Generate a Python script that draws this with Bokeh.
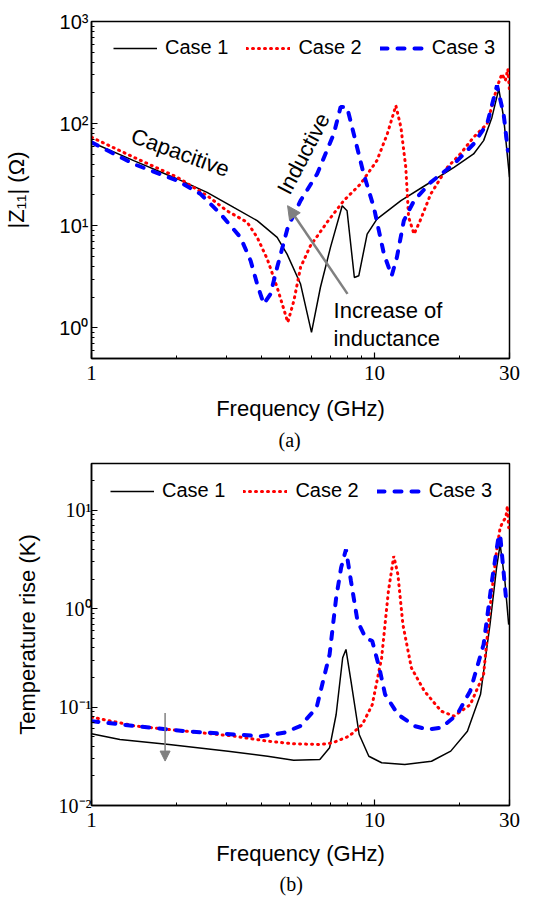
from bokeh.plotting import figure
from bokeh.models import FixedTicker, Legend, LegendItem, Label, Arrow, NormalHead, Title, Range1d
from bokeh.layouts import column
from bokeh.embed import file_html
from bokeh.resources import INLINE

# ---------------- data: panel (a) |Z11| (Ohm) ----------------
za_f1 = [1.0, 1.41, 2.01, 2.56, 3.18, 3.85, 4.53, 4.91, 5.48, 5.99, 6.44, 6.99, 7.69, 8.0, 8.49, 8.80, 9.42, 10.2, 12.4, 15.4, 19.1, 22.4, 24.3, 26.0, 27.5, 28.6, 30.0]
za_v1 = [65.6, 43.4, 28.7, 21.2, 15.1, 11.2, 7.69, 5.27, 2.68, 0.90, 2.48, 6.13, 15.7, 14.0, 3.11, 3.23, 8.28, 11.6, 17.6, 25.6, 37.3, 50.4, 68.1, 115, 219, 115, 29.8]

za_f2 = [1.0, 1.41, 2.01, 2.56, 3.01, 3.55, 3.85, 4.18, 4.53, 4.94, 5.19, 5.48, 5.94, 6.80, 7.79, 8.92, 10.2, 11.1, 11.9, 12.4, 12.9, 13.2, 13.8, 14.5, 15.8, 18.1, 20.1, 22.4, 25.0, 27.1, 28.2, 29.0, 29.6, 30.0]
za_v2 = [73.5, 46.8, 29.8, 19.7, 14.0, 10.8, 7.69, 4.71, 2.48, 1.13, 1.84, 3.91, 6.37, 10.8, 17.6, 25.6, 43.4, 79.2, 150, 92.0, 37.3, 12.1, 8.28, 11.2, 20.4, 37.3, 50.4, 73.5, 99.3, 227, 307, 263, 343, 209]

za_f3 = [1.0, 1.41, 2.01, 2.43, 2.86, 3.36, 3.65, 3.85, 4.06, 4.29, 4.53, 4.94, 5.48, 6.27, 7.18, 7.59, 8.0, 8.45, 9.16, 9.95, 10.8, 11.5, 12.0, 12.7, 13.8, 15.8, 19.1, 22.4, 25.0, 27.1, 28.6, 29.6]
za_v3 = [65.6, 40.2, 27.6, 20.4, 13.0, 7.69, 4.54, 2.68, 1.71, 2.14, 3.91, 9.63, 17.6, 32.1, 79.2, 145, 145, 79.2, 32.1, 15.1, 5.27, 3.23, 4.90, 11.2, 17.6, 26.6, 40.2, 63.2, 99.3, 236, 124, 54.3]

# ---------------- data: panel (b) temperature rise (K) ----------------
tb_f1 = [1.0, 1.26, 1.88, 3.04, 4.19, 5.18, 6.41, 6.94, 7.32, 7.72, 7.93, 8.26, 8.83, 9.55, 10.6, 12.8, 15.9, 18.6, 21.3, 23.7, 25.6, 27.0, 27.8, 28.9, 29.8]
tb_v1 = [0.0536, 0.0469, 0.0417, 0.0357, 0.0317, 0.0289, 0.0294, 0.0386, 0.0842, 0.318, 0.386, 0.184, 0.0527, 0.0317, 0.0272, 0.0261, 0.0282, 0.0357, 0.0570, 0.135, 0.693, 2.61, 4.51, 1.91, 0.69]

tb_f2 = [1.0, 1.44, 2.15, 3.20, 4.19, 5.18, 6.41, 7.11, 8.14, 9.06, 9.82, 10.6, 11.2, 11.7, 12.1, 12.6, 13.5, 15.0, 17.2, 19.1, 21.8, 24.3, 25.6, 27.0, 27.8, 28.5, 29.1, 29.5, 29.8]
tb_v2 = [0.0791, 0.0641, 0.0570, 0.0507, 0.0451, 0.0424, 0.0417, 0.0433, 0.0507, 0.0667, 0.106, 0.318, 1.51, 3.43, 2.23, 0.693, 0.251, 0.146, 0.0911, 0.0810, 0.106, 0.215, 1.02, 3.86, 6.67, 7.79, 8.42, 11.1, 6.67]

tb_f3 = [1.0, 1.44, 2.15, 3.20, 3.97, 4.78, 5.46, 6.24, 6.94, 7.32, 7.62, 7.93, 8.26, 8.71, 9.30, 9.82, 10.4, 10.9, 12.1, 13.9, 15.4, 17.2, 19.6, 21.8, 24.3, 26.0, 27.4, 27.8, 28.5, 29.3]
tb_v3 = [0.0721, 0.0641, 0.0570, 0.0527, 0.0507, 0.0548, 0.0641, 0.0984, 0.343, 1.29, 2.61, 4.01, 1.91, 0.750, 0.507, 0.469, 0.251, 0.135, 0.0842, 0.0641, 0.0593, 0.0617, 0.0842, 0.146, 0.434, 1.91, 5.27, 5.70, 2.61, 1.11]

case_labels = ["Case 1", "Case 2", "Case 3"]
x_ticks = [1, 10, 30]
x_tick_labels = {1: "1", 10: "10", 30: "30"}
x_minor = [2, 3, 4, 5, 6, 7, 8, 9, 20]
za_ticks = [1, 10, 100, 1000]
za_tick_labels = {1: "10⁰", 10: "10¹", 100: "10²", 1000: "10³"}
tb_ticks = [0.01, 0.1, 1, 10]
tb_tick_labels = {0.01: "10⁻²", 0.1: "10⁻¹", 1: "10⁰", 10: "10¹"}

SANS = "Liberation Sans"
SERIF = "Liberation Serif"
styles = [dict(line_color="black", line_width=1.5),
          dict(line_color="#FF0000", line_width=3, line_dash="1 5", line_cap="round"),
          dict(line_color="#0000FF", line_width=4, line_dash="7 10", line_cap="round")]


def minor_for(lo, hi):
    out = []
    d = 0.001
    while d < hi * 10:
        for k in range(2, 10):
            v = round(k * d, 6)
            if lo <= v <= hi:
                out.append(v)
        d *= 10
    return out


def make_panel(width, height, bl, br, bt, bb, yr, yticks, ylabels, ylabel, yfont,
               y_std, y_lab_std, x_lab_std, series, legend_loc, caption, cap_offset, cap_std):
    p = figure(width=width, height=height, x_axis_type="log", y_axis_type="log",
               x_range=Range1d(1, 30), y_range=Range1d(*yr),
               output_backend="svg", toolbar_location=None,
               min_border_left=bl, min_border_right=br, min_border_top=bt, min_border_bottom=bb)
    p.grid.visible = False
    p.outline_line_color = "black"
    p.outline_line_width = 1.5
    p.background_fill_color = "white"
    p.border_fill_color = "white"

    p.xaxis.ticker = FixedTicker(ticks=x_ticks, minor_ticks=x_minor)
    p.xaxis.major_label_overrides = x_tick_labels
    p.xaxis.major_label_text_font = SERIF
    p.xaxis.major_label_text_font_size = "21px"
    p.xaxis.major_label_standoff = 7
    p.xaxis.axis_label = "Frequency (GHz)"
    p.xaxis.axis_label_standoff = x_lab_std

    p.yaxis.ticker = FixedTicker(ticks=yticks, minor_ticks=minor_for(yr[0], yr[1]))
    p.yaxis.major_label_overrides = ylabels
    p.yaxis.major_label_text_font = yfont
    p.yaxis.major_label_text_font_size = "20px"
    p.yaxis.major_label_standoff = y_std
    p.yaxis.axis_label = ylabel
    p.yaxis.axis_label_standoff = y_lab_std

    for ax in (p.xaxis, p.yaxis):
        ax.axis_label_text_font = SANS
        ax.axis_label_text_font_size = "22px"
        ax.axis_label_text_font_style = "normal"
        ax.axis_label_text_color = "black"
        ax.major_label_text_color = "black"
        ax.axis_line_width = 1.5
        ax.major_tick_in = 6
        ax.major_tick_out = 0
        ax.minor_tick_in = 3
        ax.minor_tick_out = 0
        ax.major_tick_line_width = 1.2
        ax.minor_tick_line_width = 1

    items = []
    for (fx, vy), st, lab in zip(series, styles, case_labels):
        r = p.line(fx, vy, **st)
        items.append(LegendItem(label=lab, renderers=[r]))
    leg = Legend(items=items, orientation="horizontal", location=legend_loc,
                 border_line_color=None, background_fill_alpha=0,
                 label_text_font=SANS, label_text_font_size="20px", label_text_color="black",
                 glyph_width=44, glyph_height=20, label_standoff=8, spacing=18,
                 padding=0, margin=0)
    p.add_layout(leg)

    cap = Title(text=caption, align="left", offset=cap_offset, text_font=SERIF,
                text_font_size="20px", text_font_style="normal", text_color="black",
                standoff=cap_std)
    p.add_layout(cap, "below")
    return p


pa = make_panel(534, 456, 91, 25, 21, 98, (0.5, 1000), za_ticks, za_tick_labels,
                "|Z₁₁| (Ω)", SANS, 3, 27, 13,
                [(za_f1, za_v1), (za_f2, za_v2), (za_f3, za_v3)], (22, 299), "(a)", 187, 6)

gray = "#808080"
lab_kw = dict(text_font=SANS, text_font_size="22px", text_color="black")
pa.add_layout(Label(x=2.06, y=52, text="Capacitive", angle=-0.35,
                    text_align="center", text_baseline="middle", **lab_kw))
pa.add_layout(Label(x=5.61, y=50.8, text="Inductive", angle=1.09,
                    text_align="center", text_baseline="middle", **lab_kw))
pa.add_layout(Label(x=7.17, y=1.47, text="Increase of",
                    text_align="left", text_baseline="middle", **lab_kw))
pa.add_layout(Label(x=7.17, y=0.78, text="inductance",
                    text_align="left", text_baseline="middle", **lab_kw))
pa.add_layout(Arrow(end=NormalHead(size=13, fill_color=gray, line_color=gray),
                    x_start=8.03, y_start=2.15, x_end=4.93, y_end=15.7,
                    line_color=gray, line_width=2.5))

pb = make_panel(534, 443, 88, 22, 7, 94, (0.01, 30), tb_ticks, tb_tick_labels,
                "Temperature rise (K)", SERIF, 0, 16, 11,
                [(tb_f1, tb_v1), (tb_f2, tb_v2), (tb_f3, tb_v3)], (19, 303), "(b)", 188, 4)
pb.add_layout(Arrow(end=NormalHead(size=10, fill_color=gray, line_color=gray),
                    x_start=1.82, y_start=0.087, x_end=1.82, y_end=0.0283,
                    line_color=gray, line_width=1.5))

layout = column(pa, pb, spacing=0)
open("out.html", "w").write(file_html(layout, INLINE))
